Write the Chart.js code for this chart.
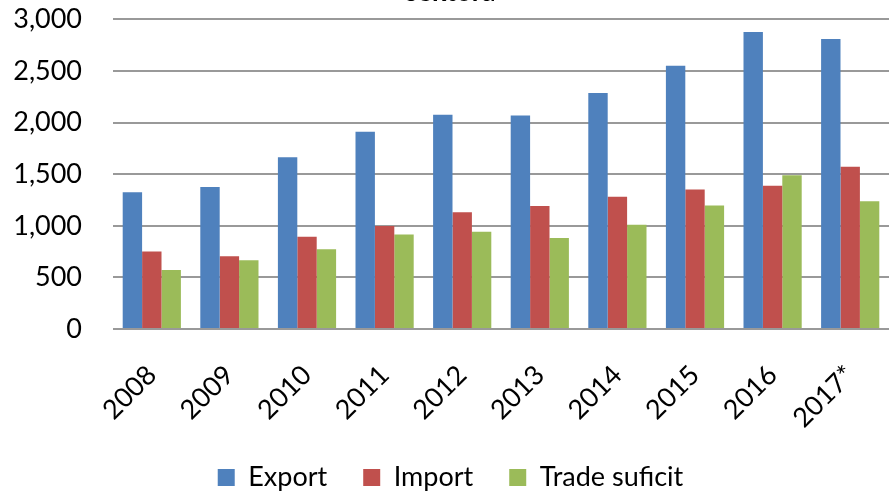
<!DOCTYPE html>
<html>
<head>
<meta charset="utf-8">
<script src="https://cdn.jsdelivr.net/npm/chart.js@4/dist/chart.umd.min.js"></script>
<style>
html,body{margin:0;padding:0;background:#fff;}
#wrap{width:889px;height:491px;position:relative;overflow:hidden;}
#c{position:absolute;left:0;top:-30px;}
</style>
</head>
<body>
<div id="wrap"><canvas id="c" width="889" height="533"></canvas></div>
<script>
const categories = ['2008','2009','2010','2011','2012','2013','2014','2015','2016','2017*'];
const exportValues = [1325, 1375, 1665, 1912, 2075, 2069, 2287, 2551, 2879, 2811];
const importValues = [750, 705, 893, 998, 1131, 1193, 1281, 1352, 1389, 1571];
const surplusValues = [571, 666, 773, 916, 942, 881, 1011, 1196, 1489, 1238];
const seriesNames = ['Export', 'Import', 'Trade suficit'];
const titleText = 'sektora';

const FONT = 'Lato, "Open Sans", sans-serif';
Chart.defaults.font.family = FONT;
Chart.defaults.color = '#000';

new Chart(document.getElementById('c'), {
  type: 'bar',
  data: {
    labels: categories,
    datasets: [
      {label: seriesNames[0], data: exportValues, backgroundColor: '#4F81BD'},
      {label: seriesNames[1], data: importValues, backgroundColor: '#C0504D'},
      {label: seriesNames[2], data: surplusValues, backgroundColor: '#9BBB59'}
    ]
  },
  options: {
    responsive: false,
    animation: false,
    devicePixelRatio: 1,
    layout: {padding: {left: 12, right: 0, top: 0, bottom: 2}},
    datasets: {bar: {categoryPercentage: 0.75, barPercentage: 1}},
    plugins: {
      title: {display: true, text: titleText, font: {size: 27, weight: 'bold'}, padding: {top: 6, bottom: 11}},
      legend: {
        position: 'bottom',
        labels: {font: {size: 27}, boxWidth: 17, boxHeight: 17, padding: 36, color: '#000'}
      },
      tooltip: {enabled: false}
    },
    scales: {
      x: {
        afterFit: (s) => { s.height = 99; s.paddingLeft = 0; s.paddingRight = 0; },
        grid: {display: false},
        border: {display: false},
        ticks: {font: {size: 27}, minRotation: 45, maxRotation: 45, padding: 22, color: '#000'}
      },
      y: {
        min: 0, max: 3000,
        afterFit: (s) => { s.width = 101; },
        ticks: {stepSize: 500, font: {size: 27}, padding: 31, color: '#000'},
        grid: {color: '#999', lineWidth: 2, drawTicks: false},
        border: {display: false}
      }
    }
  }
});
</script>
</body>
</html>
